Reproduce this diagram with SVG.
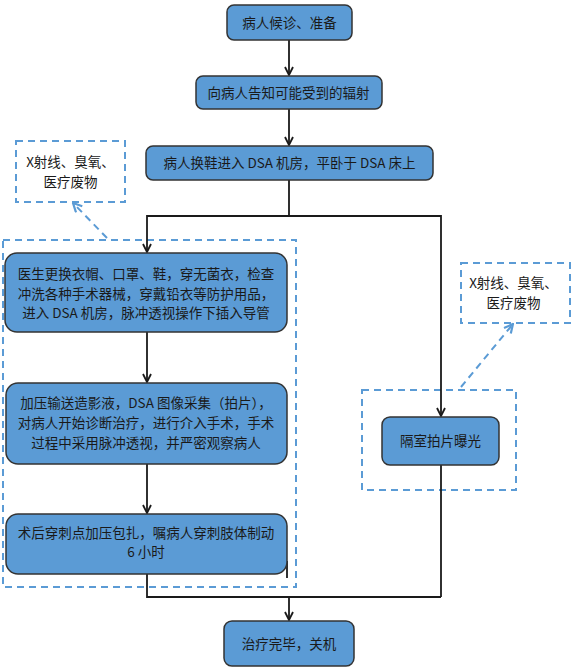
<svg xmlns="http://www.w3.org/2000/svg" width="577" height="671" viewBox="0 0 577 671">
<style>
.box{fill:#5b9bd5;stroke:#333;stroke-width:1.5}
.t{font-family:"Noto Sans CJK SC","Liberation Sans",sans-serif;font-size:13.5px;fill:#1a1a1a;text-anchor:middle}
.c{fill:none;stroke:#1a1a1a;stroke-width:1.8}
.d{fill:none;stroke:#5b9bd5;stroke-width:2;stroke-dasharray:7,5}
</style>
<defs>
<marker id="ah" viewBox="0 0 10 10" refX="9" refY="5" markerWidth="10" markerHeight="10" markerUnits="userSpaceOnUse" orient="auto">
<path d="M1,1 L9,5 L1,9" fill="none" stroke="#1a1a1a" stroke-width="1.8"/>
</marker>
<marker id="bh" viewBox="0 0 10 10" refX="9" refY="5" markerWidth="11" markerHeight="11" markerUnits="userSpaceOnUse" orient="auto">
<path d="M1,1 L9,5 L1,9" fill="none" stroke="#5b9bd5" stroke-width="2"/>
</marker>
</defs>
<rect width="577" height="671" fill="#fff"/>
<g id="zones">
<rect class="d" x="3" y="240" width="293" height="347"/>
<rect class="d" x="362" y="390" width="154" height="100"/>
</g>
<g id="connectors">
<line class="c" x1="289" y1="40" x2="289" y2="75" marker-end="url(#ah)"/>
<line class="c" x1="289" y1="109" x2="289" y2="145" marker-end="url(#ah)"/>
<path class="c" d="M289,180 V216 H147 V252" marker-end="url(#ah)"/>
<path class="c" d="M289,216 H441 V416" marker-end="url(#ah)"/>
<line class="c" x1="147" y1="332" x2="147" y2="382" marker-end="url(#ah)"/>
<line class="c" x1="147" y1="464" x2="147" y2="513" marker-end="url(#ah)"/>
<path class="c" d="M441,465 V597"/>
<path class="c" d="M147,574 V597 H441"/>
<line class="c" x1="289" y1="597" x2="289" y2="620" marker-end="url(#ah)"/>
<line class="c" x1="287" y1="561" x2="287" y2="578" stroke-width="1.5"/>
<line class="d" x1="107" y1="238" x2="73" y2="203" marker-end="url(#bh)"/>
<line class="d" x1="461" y1="387" x2="513" y2="324" marker-end="url(#bh)"/>
</g>
<g id="n1"><rect class="box" x="227" y="5" width="125" height="35" rx="7"/><text class="t" x="289.5" y="27.5">病人候诊、准备</text></g>
<g id="n2"><rect class="box" x="196" y="76" width="186" height="33" rx="7"/><text class="t" x="288.5" y="97.5">向病人告知可能受到的辐射</text></g>
<g id="n3"><rect class="box" x="146" y="146" width="287" height="34" rx="7"/><text class="t" x="289.5" y="168">病人换鞋进入 DSA 机房，平卧于 DSA 床上</text></g>
<g id="n4"><rect class="box" x="5" y="253" width="282" height="79" rx="12"/>
<text class="t" x="146" y="279">医生更换衣帽、口罩、鞋，穿无菌衣，检查</text>
<text class="t" x="146" y="298.5">冲洗各种手术器械，穿戴铅衣等防护用品，</text>
<text class="t" x="146" y="318">进入 DSA 机房，脉冲透视操作下插入导管</text></g>
<g id="n5"><rect class="box" x="6" y="383" width="281" height="81" rx="12"/>
<text class="t" x="146" y="408">加压输送造影液，DSA 图像采集（拍片），</text>
<text class="t" x="146" y="428">对病人开始诊断治疗，进行介入手术，手术</text>
<text class="t" x="146" y="448">过程中采用脉冲透视，并严密观察病人</text></g>
<g id="n6"><rect class="box" x="6" y="514" width="281" height="60" rx="12"/>
<text class="t" x="146" y="538">术后穿刺点加压包扎，嘱病人穿刺肢体制动</text>
<text class="t" x="146" y="557">6 小时</text></g>
<g id="n7"><rect class="box" x="224" y="621" width="130" height="45" rx="8"/><text class="t" x="289" y="648.5">治疗完毕，关机</text></g>
<g id="n8"><rect class="box" x="382" y="417" width="117" height="48" rx="8"/><text class="t" x="440.5" y="446">隔室拍片曝光</text></g>
<g id="note1"><rect class="d" x="16" y="141" width="109" height="61"/>
<text class="t" x="70.5" y="167">X射线、臭氧、</text><text class="t" x="70.5" y="187">医疗废物</text></g>
<g id="note2"><rect class="d" x="461" y="263" width="109" height="60"/>
<text class="t" x="513.5" y="288">X射线、臭氧、</text><text class="t" x="513.5" y="308">医疗废物</text></g>
</svg>
